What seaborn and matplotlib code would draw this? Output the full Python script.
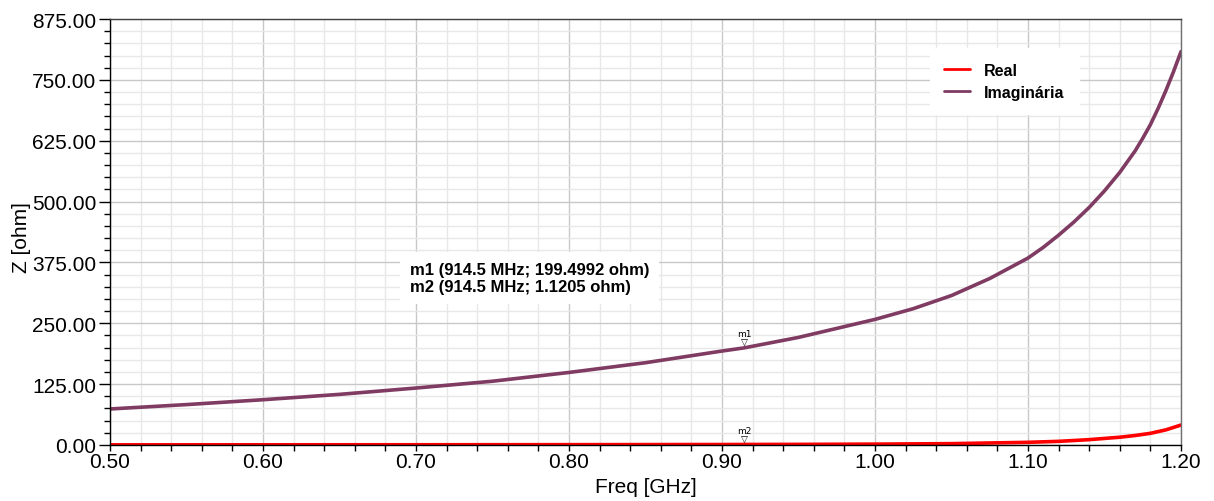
import numpy as np
import pandas as pd
import seaborn as sns
import matplotlib.pyplot as plt
from matplotlib.ticker import MultipleLocator, FormatStrFormatter

sns.set_theme(style="white", rc={
    "axes.linewidth": 1.0,
    "text.color": "black",
    "axes.labelcolor": "black",
    "xtick.color": "black",
    "ytick.color": "black",
})
plt.rcParams["font.family"] = ["Liberation Sans", "DejaVu Sans"]

# frequency points (GHz)
freq_imag = [0.50, 0.55, 0.60, 0.65, 0.70, 0.75, 0.80, 0.85, 0.90, 0.9145,
             0.95, 1.00, 1.025, 1.05, 1.075, 1.10, 1.11, 1.12, 1.13, 1.14,
             1.15, 1.16, 1.17, 1.175, 1.18, 1.185, 1.19, 1.195, 1.20]
z_imag = [74, 83, 93, 104, 117, 131, 149, 169, 193, 199.5,
          221, 258, 280, 307, 342, 384, 406, 431, 458, 488,
          522, 560, 604, 630, 658, 691, 727, 766, 808]

freq_real = [0.50, 0.60, 0.70, 0.80, 0.90, 0.9145, 0.95, 1.00, 1.05, 1.10,
             1.12, 1.14, 1.16, 1.17, 1.18, 1.19, 1.20]
z_real = [0.3, 0.4, 0.5, 0.7, 1.0, 1.12, 1.3, 1.8, 2.8, 5.5,
          7.5, 11, 16, 19.5, 24, 31, 41]

marker_f = 0.9145
marker_names = ["m1", "m2"]
marker_vals = [199.4992, 1.1205]

df = pd.concat([
    pd.DataFrame({"freq": freq_real, "z": z_real, "serie": "Real"}),
    pd.DataFrame({"freq": freq_imag, "z": z_imag, "serie": "Imaginária"}),
])
palette = {"Real": "#ff0000", "Imaginária": "#7f3b62"}

fig = plt.figure(figsize=(12.14, 5.02), dpi=100)
ax = fig.add_axes([110 / 1214, 1 - 446 / 502, 1071 / 1214, 426 / 502])

sns.lineplot(data=df, x="freq", y="z", hue="serie", hue_order=["Imaginária", "Real"],
             palette=palette, linewidth=2.6, ax=ax, legend=False, estimator=None, sort=True)

ax.set_xlim(0.5, 1.2)
ax.set_ylim(0, 875)
ax.xaxis.set_major_locator(MultipleLocator(0.1))
ax.xaxis.set_minor_locator(MultipleLocator(0.02))
ax.yaxis.set_major_locator(MultipleLocator(125))
ax.yaxis.set_minor_locator(MultipleLocator(25))
ax.xaxis.set_major_formatter(FormatStrFormatter("%.2f"))
ax.yaxis.set_major_formatter(FormatStrFormatter("%.2f"))

ax.grid(which="major", color="#c8c8c8", linewidth=1.0)
ax.grid(which="minor", color="#e8e8e8", linewidth=1.0)
ax.set_axisbelow(True)

ax.tick_params(axis="both", which="both", direction="out", colors="black",
               labelsize=15, left=True, bottom=True, pad=2)
ax.tick_params(axis="y", which="major", length=8, width=1.0)
ax.tick_params(axis="y", which="minor", length=4, width=1.0)
ax.tick_params(axis="x", which="major", length=4, width=1.0, pad=1)
ax.tick_params(axis="x", which="minor", length=4, width=1.0)

for side in ["left", "bottom"]:
    ax.spines[side].set_color("black")
ax.spines["top"].set_color("#404040")
ax.spines["right"].set_color("#707070")

ax.set_xlabel("Freq [GHz]", fontsize=15)
ax.set_ylabel("Z [ohm]", fontsize=15)
ax.yaxis.set_label_coords(-0.0735, 0.49)
ax.xaxis.set_label_coords(0.5, -0.075)

# legend
h_real, = ax.plot([], [], color=palette["Real"], linewidth=2)
h_imag, = ax.plot([], [], color=palette["Imaginária"], linewidth=2)
leg = ax.legend([h_real, h_imag], ["Real", "Imaginária"], loc="upper left",
                bbox_to_anchor=(0.758, 0.95), prop={"weight": "bold", "size": 11.5},
                frameon=True, fancybox=False, handlelength=1.6, borderpad=0.9,
                labelspacing=0.45, handletextpad=0.9)
leg.get_frame().set_edgecolor("white")
leg.get_frame().set_facecolor("white")
leg.get_frame().set_alpha(1)

# marker readout box
txt = "\n".join(f"{n} ({marker_f * 1000:.1f} MHz; {v} ohm)" for n, v in zip(marker_names, marker_vals))
ax.text(0.28, 0.43, txt, transform=ax.transAxes, ha="left", va="top",
        fontsize=12, fontweight="bold", linespacing=1.2,
        bbox=dict(facecolor="white", edgecolor="none", pad=7))

# marker triangles
for n, v in zip(marker_names, marker_vals):
    ax.annotate("▽", xy=(marker_f, v), xytext=(0, 0.5), textcoords="offset points",
                ha="center", va="bottom", fontsize=6.5, family="DejaVu Sans")
    ax.annotate(n, xy=(marker_f, v), xytext=(0, 7), textcoords="offset points",
                ha="center", va="bottom", fontsize=6.5, family="DejaVu Sans")

fig.savefig("out.png", dpi=100)
